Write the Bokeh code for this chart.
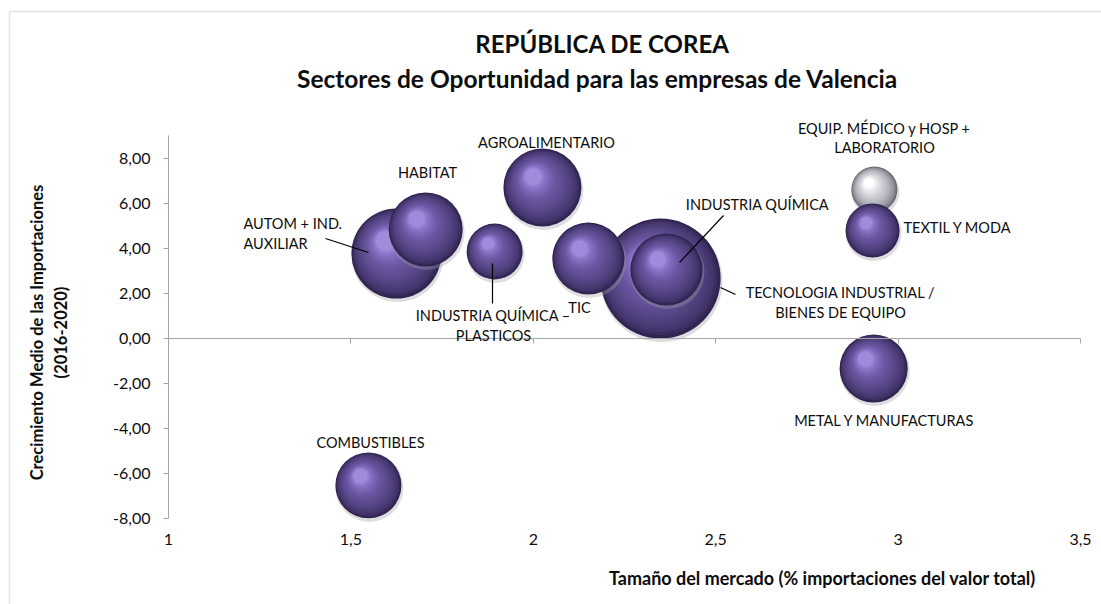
import math
from bokeh.plotting import figure
from bokeh.models import (FixedTicker, CustomJSTickFormatter, Label, Range1d,
                          BoxAnnotation, ColumnDataSource, LinearAxis)
from bokeh.embed import file_html
from bokeh.resources import INLINE

# ---------------- data ----------------
sectors = ["AUTOM + IND. AUXILIAR", "HABITAT", "INDUSTRIA QUÍMICA – PLASTICOS",
           "AGROALIMENTARIO", "TECNOLOGIA INDUSTRIAL / BIENES DE EQUIPO", "TIC",
           "INDUSTRIA QUÍMICA", "EQUIP. MÉDICO y HOSP + LABORATORIO",
           "TEXTIL Y MODA", "METAL Y MANUFACTURAS", "COMBUSTIBLES"]
market_size = [1.625, 1.705, 1.894, 2.025, 2.349, 2.151, 2.365, 2.935, 2.930, 2.933, 1.548]
growth = [3.76, 4.83, 3.85, 6.69, 2.65, 3.54, 3.05, 6.60, 4.78, -1.34, -6.53]
bubble_value = [20.3, 13.7, 7.8, 15.2, 36.0, 13.0, 13.0, 5.3, 7.3, 11.6, 10.9]

x_ticks = [1, 1.5, 2, 2.5, 3, 3.5]
y_ticks = [-8, -6, -4, -2, 0, 2, 4, 6, 8]

title = "REPÚBLICA DE COREA"
subtitle = "Sectores de Oportunidad para las empresas de Valencia"
x_title = "Tamaño del mercado (% importaciones del valor total)"
y_title = ["Crecimiento Medio de las Importaciones", "(2016-2020)"]

# ---------------- layout ----------------
W, H = 1101, 604
FL, FR, FT, FB = 168, 1080, 135, 518      # pixel box of the value area
X0, X1, Y0, Y1 = 1.0, 3.5, -8.0, 9.0
FONT = "Lato"
TXT = "#0d0d0d"
GRID = "#a6a6a6"


def px2x(px):
    return X0 + (px - FL) / (FR - FL) * (X1 - X0)


def px2y(py):
    return Y1 - (py - FT) / (FB - FT) * (Y1 - Y0)


XPU = (FR - FL) / (X1 - X0)   # pixels per x unit
YPU = (FB - FT) / (Y1 - Y0)   # pixels per y unit

p = figure(width=W, height=H,
           x_range=Range1d(px2x(0), px2x(W)), y_range=Range1d(px2y(H), px2y(0)),
           output_backend="svg", toolbar_location=None, min_border=0)
p.outline_line_color = None
p.xgrid.visible = False
p.ygrid.visible = False
p.background_fill_color = "white"
p.border_fill_color = "white"

# y axis
ya = p.yaxis[0]
ya.fixed_location = X0
ya.bounds = (Y0, Y1)
ya.ticker = FixedTicker(ticks=y_ticks)
ya.formatter = CustomJSTickFormatter(code="return tick.toFixed(2).replace('.', ',');")
ya.axis_line_color = GRID
ya.major_tick_line_color = GRID
ya.major_tick_in = 0
ya.major_tick_out = 5
ya.minor_tick_line_color = None
ya.major_label_text_font = FONT
ya.major_label_text_font_size = "16px"
ya.major_label_text_color = TXT
ya.major_label_standoff = 13

# x axis labels at the bottom of the value area
xa = p.xaxis[0]
xa.fixed_location = Y0
xa.bounds = (X0, X1)
xa.ticker = FixedTicker(ticks=x_ticks)
xa.formatter = CustomJSTickFormatter(code="return String(tick).replace('.', ',');")
xa.axis_line_color = None
xa.major_tick_line_color = None
xa.minor_tick_line_color = None
xa.major_label_text_font = FONT
xa.major_label_text_font_size = "16px"
xa.major_label_text_color = TXT
xa.major_label_standoff = 9

# x axis line crossing at y = 0
xa0 = LinearAxis(fixed_location=0, bounds=(X0, X1), ticker=FixedTicker(ticks=x_ticks[1:]),
                 axis_line_color=GRID, major_tick_line_color=GRID, major_tick_in=0,
                 major_tick_out=5, minor_tick_line_color=None, major_label_text_color=None)
p.add_layout(xa0, "below")

# outer frame border
p.add_layout(BoxAnnotation(left=px2x(9), right=px2x(1130), top=px2y(11), bottom=px2y(640),
                           fill_color=None, line_color=GRID, line_width=1.5, level="underlay"))

# ---------------- bubbles (layered shading) ----------------
purple_stops = [(0.0, (48, 36, 80)), (0.1, (68, 53, 108)), (0.35, (89, 71, 137)),
                (0.65, (108, 88, 163)), (0.88, (136, 113, 196)), (1.0, (160, 138, 220))]
silver_stops = [(0.0, (105, 105, 115)), (0.1, (140, 140, 150)), (0.35, (180, 180, 188)),
                (0.65, (210, 210, 216)), (0.88, (236, 236, 240)), (1.0, (255, 255, 255))]
palette_of = {s: purple_stops for s in sectors}
palette_of["EQUIP. MÉDICO y HOSP + LABORATORIO"] = silver_stops


def interp(stops, t):
    for (t0, c0), (t1, c1) in zip(stops[:-1], stops[1:]):
        if t <= t1:
            f = (t - t0) / (t1 - t0) if t1 > t0 else 0
            return "#%02x%02x%02x" % tuple(int(round(a + (b - a) * f)) for a, b in zip(c0, c1))
    return "#%02x%02x%02x" % stops[-1][1]


NL = 20
bx, by, bs, bc, ba = [], [], [], [], []
for s, xv, yv, v in zip(sectors, market_size, growth, bubble_value):
    r = 10 * math.sqrt(v)
    # soft shadow
    bx.append(xv + 1.0 / XPU); by.append(yv - 2.5 / YPU); bs.append(2 * r + 2)
    bc.append("#a0a0aa"); ba.append(0.35)
    for k in range(NL):
        t = k / (NL - 1)
        rr = r * (1 - 0.78 * t)
        dx = -0.24 * r * t
        dy = 0.28 * r * t
        bx.append(xv + dx / XPU); by.append(yv + dy / YPU); bs.append(2 * rr)
        bc.append(interp(palette_of[s], t)); ba.append(1.0)

src = ColumnDataSource(dict(x=bx, y=by, size=bs, color=bc, alpha=ba))
p.scatter("x", "y", size="size", source=src, fill_color="color", fill_alpha="alpha",
          line_color=None, marker="circle")


# ---------------- labels ----------------
def lab(text, px, py, size="14.5px", bold=False, align="center", angle=0):
    p.add_layout(Label(x=px2x(px), y=px2y(py), text=text, text_font=FONT,
                       text_font_size=size, text_color=TXT,
                       text_font_style="bold" if bold else "normal",
                       text_align=align, text_baseline="middle", angle=angle))


lab(title, 602, 43, size="24px", bold=True)
lab(subtitle, 597, 78, size="24.5px", bold=True)
lab(x_title, 822, 577, size="18px", bold=True)
lab(y_title[0], 36, 332, size="16.5px", bold=True, angle=math.pi / 2)
lab(y_title[1], 60, 332, size="16.5px", bold=True, angle=math.pi / 2)

# data labels (pixel anchors are layout)
label_lines = {
    "AUTOM + IND. AUXILIAR": [("AUTOM + IND.", 243, 223, "left"), ("AUXILIAR", 243, 243, "left")],
    "HABITAT": [("HABITAT", 427, 172, "center")],
    "INDUSTRIA QUÍMICA – PLASTICOS": [("INDUSTRIA QUÍMICA –", 493, 315, "center"),
                                      ("PLASTICOS", 493, 335, "center")],
    "AGROALIMENTARIO": [("AGROALIMENTARIO", 546, 142, "center")],
    "TECNOLOGIA INDUSTRIAL / BIENES DE EQUIPO": [("TECNOLOGIA INDUSTRIAL /", 840, 292, "center"),
                                                 ("BIENES DE EQUIPO", 840, 312, "center")],
    "TIC": [("TIC", 579, 307, "center")],
    "INDUSTRIA QUÍMICA": [("INDUSTRIA QUÍMICA", 757, 204, "center")],
    "EQUIP. MÉDICO y HOSP + LABORATORIO": [("EQUIP. MÉDICO y HOSP +", 884, 128, "center"),
                                           ("LABORATORIO", 884, 147, "center")],
    "TEXTIL Y MODA": [("TEXTIL Y MODA", 903, 227, "left")],
    "METAL Y MANUFACTURAS": [("METAL Y MANUFACTURAS", 884, 420, "center")],
    "COMBUSTIBLES": [("COMBUSTIBLES", 370, 442, "center")],
}
for s in sectors:
    for text, lx, ly, al in label_lines[s]:
        lab(text, lx, ly, align=al)

# leader lines
leaders = [((325, 238), (368, 252)), ((492, 263), (492, 303)),
           ((723, 215), (679, 262)), ((720, 287), (735, 294))]
p.segment(x0=[px2x(a[0]) for a, b in leaders], y0=[px2y(a[1]) for a, b in leaders],
          x1=[px2x(b[0]) for a, b in leaders], y1=[px2y(b[1]) for a, b in leaders],
          line_color="black", line_width=1.2)

open("out.html", "w").write(file_html(p, INLINE))
